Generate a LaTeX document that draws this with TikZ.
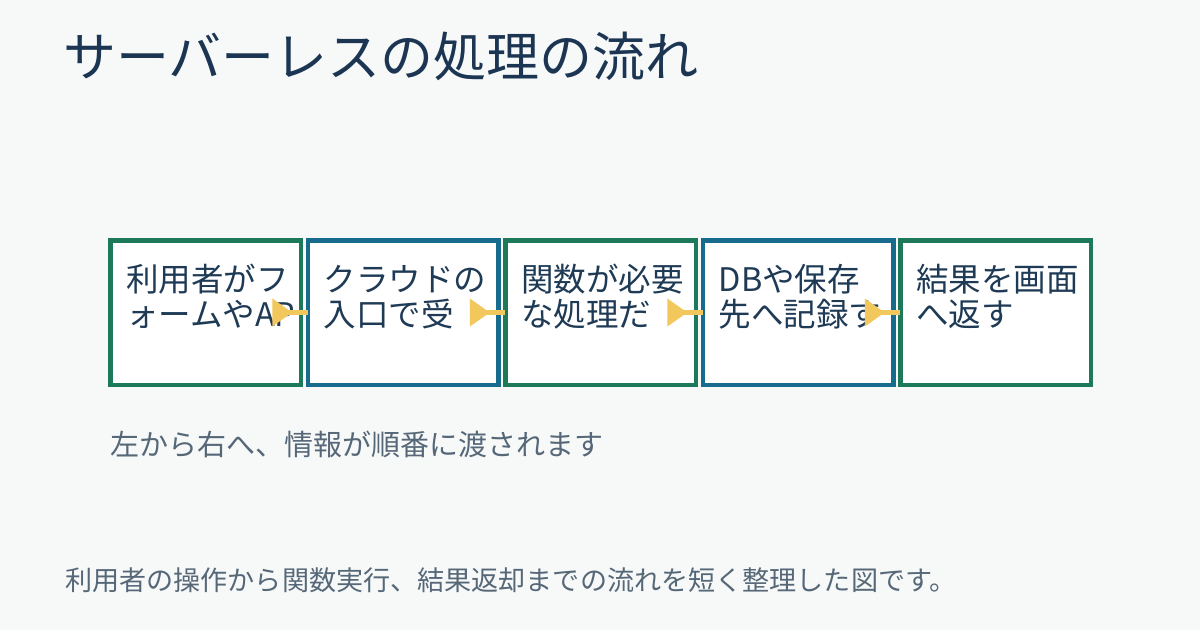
\documentclass[tikz,border=0pt]{standalone}
\usepackage{fontspec}
\usetikzlibrary{positioning,arrows.meta}
\newfontfamily\jpfont{Noto Sans CJK JP}
\definecolor{bgcol}{HTML}{F7F9F9}
\definecolor{titlecol}{HTML}{1B3552}
\definecolor{textcol}{HTML}{1E3A55}
\definecolor{greycol}{HTML}{566878}
\definecolor{stepgreen}{HTML}{1C7A5B}
\definecolor{stepblue}{HTML}{176B8C}
\definecolor{flowcol}{HTML}{F2C75C}

\begin{document}
\begin{tikzpicture}[x=1pt,y=-1pt,
    stepbox/.style={rectangle,draw,fill=white,line width=4.5pt,minimum width=190.5pt,minimum height=144.5pt,inner sep=0pt,outer sep=0pt},
    steptext/.style={anchor=base west,align=left,inner sep=0pt,text=textcol,font=\jpfont\fontsize{32.5}{35}\selectfont},
    flow/.style={draw=flowcol,line width=4.5pt,{Triangle[reversed,length=20pt,width=27pt]}-}]
            \fill[bgcol] (0,0) rectangle (1200,630);
            \node [anchor=base west,inner sep=0pt,text=titlecol,font=\jpfont\fontsize{53}{60}\selectfont] (title) at (63,76) {サーバーレスの処理の流れ};

            \node [stepbox,draw=stepgreen] (s1) at (205.5,312.5) {};
            \node [stepbox,draw=stepblue] (s2) at (403,312.5) {};
            \node [stepbox,draw=stepgreen] (s3) at (600.5,312.5) {};
            \node [stepbox,draw=stepblue] (s4) at (798,312.5) {};
            \node [stepbox,draw=stepgreen] (s5) at (995.5,312.5) {};

            \node [steptext] (t1) at (126,326) {利用者がフ\\ォームやAP};
            \node [steptext] (t2) at (323.5,326) {クラウドの\\入口で受};
            \node [steptext] (t3) at (521,326) {関数が必要\\な処理だ};
            \node [steptext] (t4) at (718.5,326) {DBや保存\\先へ記録す};
            \node [steptext] (t5) at (916,326) {結果を画面\\へ返す};

            \draw [flow] ([xshift=-28.5pt]s1.east) -- (s2.west);
            \draw [flow] ([xshift=-28.5pt]s2.east) -- (s3.west);
            \draw [flow] ([xshift=-28.5pt]s3.east) -- (s4.west);
            \draw [flow] ([xshift=-28.5pt]s4.east) -- (s5.west);

            \node [anchor=base west,inner sep=0pt,text=greycol,font=\jpfont\fontsize{29}{34}\selectfont] (note) at (110,455) {左から右へ、情報が順番に渡されます};
            \node [anchor=base west,inner sep=0pt,text=greycol,font=\jpfont\fontsize{27.1}{32}\selectfont] (caption) at (65,590) {利用者の操作から関数実行、結果返却までの流れを短く整理した図です。};
        \end{tikzpicture}
\end{document}
